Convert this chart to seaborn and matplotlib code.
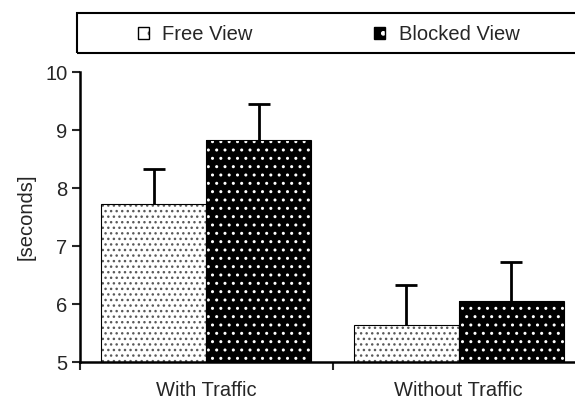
import matplotlib
matplotlib.use("Agg")
import matplotlib.pyplot as plt
from matplotlib.patches import Rectangle, Patch
from matplotlib.legend_handler import HandlerTuple
import seaborn as sns
import pandas as pd

categories = ["With Traffic", "Without Traffic"]
conditions = ["Free View", "Blocked View"]
free_means = [7.72, 5.63]
blocked_means = [8.83, 6.05]
free_err = [0.61, 0.70]
blocked_err = [0.62, 0.67]
y_ticks = [5, 6, 7, 8, 9, 10]

df = pd.DataFrame({
    "category": categories * 2,
    "condition": [conditions[0]] * 2 + [conditions[1]] * 2,
    "value": free_means + blocked_means,
})
errs = {conditions[0]: free_err, conditions[1]: blocked_err}

sns.set_style("ticks")
plt.rcParams["font.family"] = ["Liberation Sans", "DejaVu Sans"]
plt.rcParams["hatch.linewidth"] = 1.0

fig = plt.figure(figsize=(5.75, 4.03), dpi=100)
ax = fig.add_axes([80 / 575, 1 - 362 / 403, 505 / 575, 290 / 403])

sns.barplot(data=df, x="category", y="value", hue="condition",
            hue_order=conditions, order=categories, width=0.83, gap=0,
            errorbar=None, legend=False, ax=ax)

styles = {
    conditions[0]: dict(face="white", hatch="...", hcol="#5a5a5a"),
    conditions[1]: dict(face="black", hatch="..", hcol="white"),
}

handles = []
for cont, cond in zip(ax.containers, conditions):
    st = styles[cond]
    for bar, e in zip(cont, errs[cond]):
        bar.set_facecolor(st["face"])
        bar.set_hatch(st["hatch"])
        bar.set_edgecolor(st["hcol"])
        bar.set_linewidth(0)
        x0, y0 = bar.get_x(), bar.get_y()
        w, h = bar.get_width(), bar.get_height()
        ax.add_patch(Rectangle((x0, y0), w, h, fill=False, edgecolor="black",
                               linewidth=0.8, zorder=bar.get_zorder() + 0.1))
        _, caps, _ = ax.errorbar(x0 + w / 2, y0 + h, yerr=[[0], [e]], fmt="none",
                                 ecolor="black", elinewidth=2, capsize=8,
                                 capthick=2, zorder=1)
        caps[0].set_visible(False)
    fill = Patch(facecolor=st["face"], hatch=".", edgecolor=st["hcol"],
                 linewidth=0)
    outline = Patch(facecolor="none", edgecolor="black", linewidth=1.0)
    handles.append((fill, outline))

ax.set_ylim(5, 10)
ax.set_yticks(y_ticks)
ax.set_xlim(-0.5, 1.5)
ax.set_xticks([0, 1])
ax.set_xticklabels(categories)
ax.set_xticks([-0.5, 0.5, 1.5], minor=True)
ax.tick_params(axis="x", which="major", length=0, pad=14, labelsize=14.5)
ax.tick_params(axis="x", which="minor", length=6, width=1.5, direction="out")
ax.tick_params(axis="y", length=6, width=1.5, direction="out", labelsize=14.5, pad=3)
ax.set_xlabel("")
ax.set_ylabel("[seconds]", fontsize=14.5, labelpad=7)
for s in ["top", "right"]:
    ax.spines[s].set_visible(False)
for s in ["left", "bottom"]:
    ax.spines[s].set_linewidth(1.8)
    ax.spines[s].set_color("black")

# legend frame (extends past the right edge, as in the reference)
fig.add_artist(Rectangle((77 / 575, 1 - 53 / 403), 600 / 575, 40 / 403,
                         transform=fig.transFigure, fill=False,
                         edgecolor="black", linewidth=1.5))
leg = fig.legend(handles=handles, labels=conditions, loc="center left", ncol=2,
                 bbox_to_anchor=(138 / 575, 1 - 34.5 / 403),
                 frameon=False, fontsize=14.5,
                 handler_map={tuple: HandlerTuple(ndivide=1, pad=0)},
                 handlelength=0.55, handleheight=0.55, handletextpad=0.65,
                 columnspacing=6.05, borderaxespad=0, borderpad=0)

fig.savefig("out.png", dpi=100)
